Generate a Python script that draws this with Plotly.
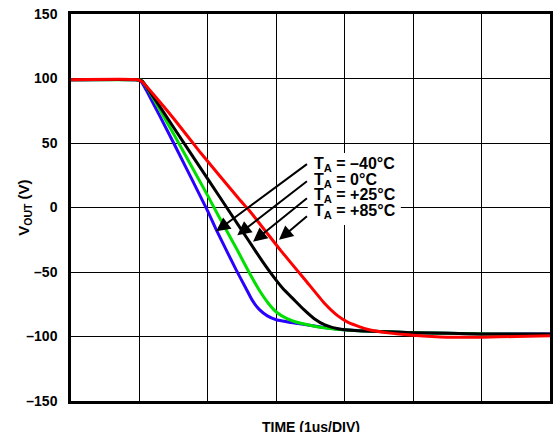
import plotly.graph_objects as go

# Output voltage vs time, one trace per ambient temperature (time in 1 us divisions)
t_blue = [0, 0.95, 1.02, 1.10, 1.5, 2.0, 2.12, 2.41, 2.55, 2.65, 2.75, 2.87, 3.0, 3.32, 3.7, 4.05, 5.0, 6.0, 7.0]
v_blue = [99, 99, 98, 91, 50, -3, -17, -48, -62, -72, -79, -84, -87, -90, -93, -95, -97, -98, -98]

t_green = [0, 0.95, 1.03, 1.12, 1.5, 2.0, 2.16, 2.43, 2.6, 2.75, 2.88, 3.0, 3.15, 3.3, 3.66, 4.2, 5.0, 6.0, 7.0]
v_green = [99, 99, 98.5, 92, 57, 9, -7, -33, -50, -64, -74, -81, -86, -89, -93, -95.5, -97, -98, -98.5]

t_black = [0, 0.95, 1.04, 1.15, 1.5, 2.0, 2.35, 2.6, 2.8, 2.95, 3.1, 3.25, 3.4, 3.55, 3.71, 3.9, 4.2, 5.0, 6.0, 7.0]
v_black = [99, 99, 98, 90, 62, 22, -6, -26, -42, -53, -63, -71, -79, -86, -91, -94, -95.5, -97, -98, -98]

t_red = [0, 0.98, 1.05, 1.2, 1.5, 1.9, 2.45, 2.6, 3.06, 3.42, 3.7, 3.9, 4.05, 4.3, 4.6, 5.0, 5.5, 6.0, 6.5, 7.0]
v_red = [99, 99, 97, 88, 69, 42, 7, -2, -33, -56, -74, -84, -89, -94, -97, -99, -100.5, -100.5, -100, -99.5]

y_ticks = [-150, -100, -50, 0, 50, 100, 150]
y_tick_text = ["\u2013150", "\u2013100", "\u201350", "0", "50", "100", "150"]

temp_labels = ["\u201340\u00b0C", "0\u00b0C", "+25\u00b0C", "+85\u00b0C"]
label_y = [33.7, 21.3, 9.3, -3.2]
arrow_tips = [(2.12, -18.5), (2.43, -21.5), (2.66, -26.5), (3.04, -25.0)]
arrow_tails = [(3.47, 34.5), (3.47, 21.3), (3.47, 8.1), (3.47, -5.8)]

FONT = "Arial, Liberation Sans, sans-serif"

fig = go.Figure()
for t, v, c in [(t_blue, v_blue, "#2a00ff"), (t_green, v_green, "#00e000"),
                (t_black, v_black, "#000000"), (t_red, v_red, "#ff0000")]:
    fig.add_trace(go.Scatter(x=t, y=v, mode="lines",
                             line=dict(color=c, width=3, shape="spline", smoothing=0.4),
                             showlegend=False, hoverinfo="skip"))

# white backing behind the temperature labels
fig.add_shape(type="rect", xref="x", yref="y", x0=3.46, x1=4.82, y0=-13.6, y1=42.2,
              fillcolor="white", line=dict(width=0), layer="above")

annotations = []
for lab, y in zip(temp_labels, label_y):
    annotations.append(dict(x=3.52, y=y, xref="x", yref="y", xanchor="left", yanchor="middle",
                            text="<b>T<sub>A</sub> = " + lab + "</b>", showarrow=False,
                            font=dict(family=FONT, size=16, color="black")))
for (x, y), (ax, ay) in zip(arrow_tips, arrow_tails):
    annotations.append(dict(x=x, y=y, ax=ax, ay=ay, xref="x", yref="y", axref="x", ayref="y",
                            text="", showarrow=True, arrowhead=2, arrowsize=1.4, arrowwidth=2,
                            arrowcolor="black"))
annotations.append(dict(x=-0.0975, y=0.5, xref="paper", yref="paper", xanchor="center",
                        yanchor="middle", textangle=-90,
                        text="<b>V<sub>OUT</sub> (V)</b>", showarrow=False,
                        font=dict(family=FONT, size=15, color="black")))
annotations.append(dict(x=0.5, y=-0.068, xref="paper", yref="paper", yanchor="middle",
                        text="<b>TIME (1us/DIV)</b>", showarrow=False,
                        font=dict(family=FONT, size=14, color="black")))

fig.update_layout(
    width=557, height=432,
    margin=dict(l=71, r=4, t=14, b=31),
    plot_bgcolor="white", paper_bgcolor="white",
    annotations=annotations,
    xaxis=dict(range=[0, 7], dtick=1, tick0=0, showticklabels=False, ticks="",
               showgrid=True, gridcolor="black", gridwidth=1.3, zeroline=False,
               showline=True, linecolor="black", linewidth=2.5, mirror=True),
    yaxis=dict(range=[-150, 150], tickvals=y_ticks, ticktext=y_tick_text, ticks="",
               ticklabelstandoff=8,
               tickfont=dict(family=FONT, size=14, color="black", weight="bold"),
               showgrid=True, gridcolor="black", gridwidth=1.3, zeroline=False,
               showline=True, linecolor="black", linewidth=2.5, mirror=True),
)

fig.write_html("out.html")
